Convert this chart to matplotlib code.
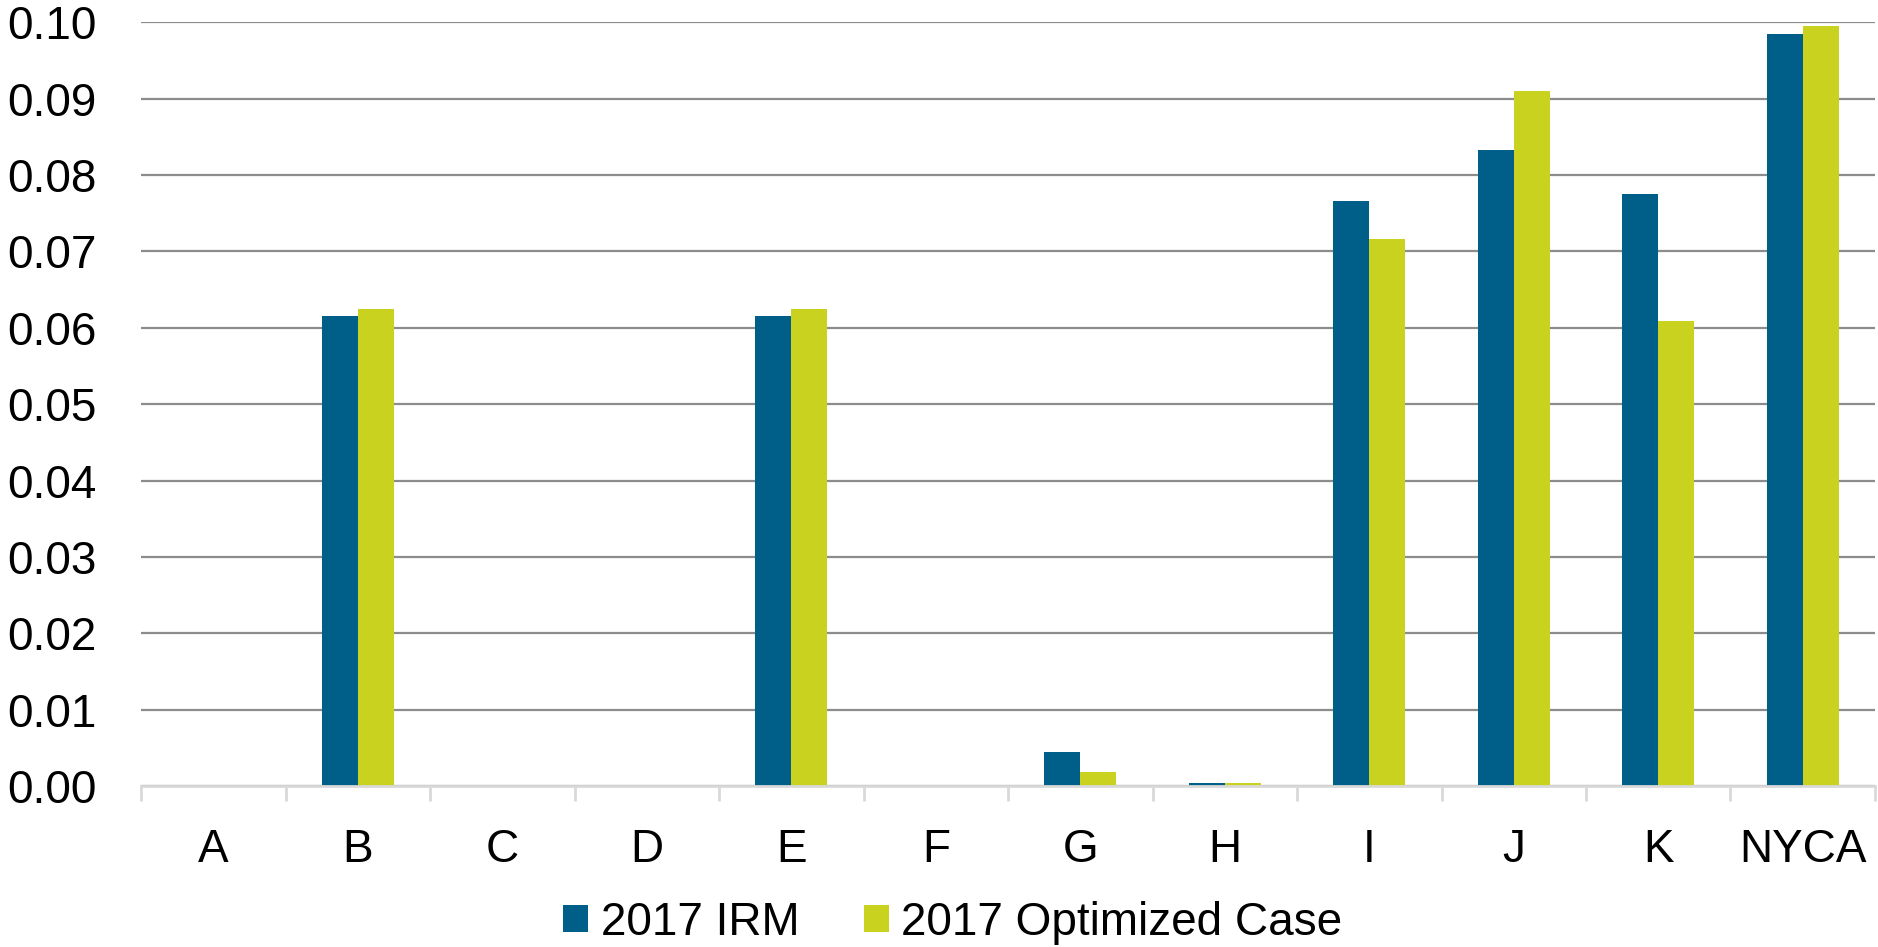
import numpy as np
import matplotlib
matplotlib.use("Agg")
import matplotlib.pyplot as plt
from matplotlib.ticker import FixedLocator, FormatStrFormatter

categories = ["A", "B", "C", "D", "E", "F", "G", "H", "I", "J", "K", "NYCA"]
irm_2017 = [0.0001, 0.0615, 0.0001, 0.0, 0.0615, 0.0, 0.0045, 0.0004, 0.0766, 0.0833, 0.0775, 0.0985]
optimized_2017 = [0.0001, 0.0625, 0.0001, 0.0, 0.0625, 0.0, 0.0019, 0.0004, 0.0716, 0.0910, 0.0609, 0.0995]
series_labels = ["2017 IRM", "2017 Optimized Case"]

BLUE = "#005f88"
GREEN = "#c8d21f"
plt.rcParams["font.family"] = ["Liberation Sans", "DejaVu Sans"]

fig = plt.figure(figsize=(18.78, 9.47), dpi=100)
ax = fig.add_axes([0.0751, 0.1697, 0.9233, 0.8068])

x = np.arange(len(categories))
w = 0.25
ax.bar(x - w / 2, irm_2017, w, color=BLUE, label=series_labels[0], zorder=3)
ax.bar(x + w / 2, optimized_2017, w, color=GREEN, label=series_labels[1], zorder=3)

ax.set_xlim(-0.5, len(categories) - 0.5)
ax.set_ylim(0, 0.10)
ax.set_yticks(np.arange(0, 0.1001, 0.01))
ax.yaxis.set_major_formatter(FormatStrFormatter("%.2f"))
ax.grid(axis="y", color="#8c8c8c", linewidth=1.6, zorder=0)
ax.set_axisbelow(True)

for s in ["top", "right", "left"]:
    ax.spines[s].set_visible(False)
ax.spines["bottom"].set_color("#d9d9d9")
ax.spines["bottom"].set_linewidth(2)
ax.spines["bottom"].set_zorder(4)

ax.set_xticks(x)
ax.set_xticklabels(categories)
ax.xaxis.set_minor_locator(FixedLocator(np.arange(-0.5, len(categories), 1.0)))
ax.tick_params(axis="x", which="major", length=0, pad=30, labelsize=33)
ax.tick_params(axis="x", which="minor", length=11, width=2, color="#d9d9d9")
ax.tick_params(axis="y", length=0, pad=32, labelsize=33)

fig.legend(loc="center", bbox_to_anchor=(953 / 1878, 1 - 923 / 947), ncol=2,
           frameon=False, fontsize=33,
           handlelength=0.54, handleheight=0.54, handletextpad=0.28, columnspacing=1.4)

fig.savefig("out.png", dpi=100)
